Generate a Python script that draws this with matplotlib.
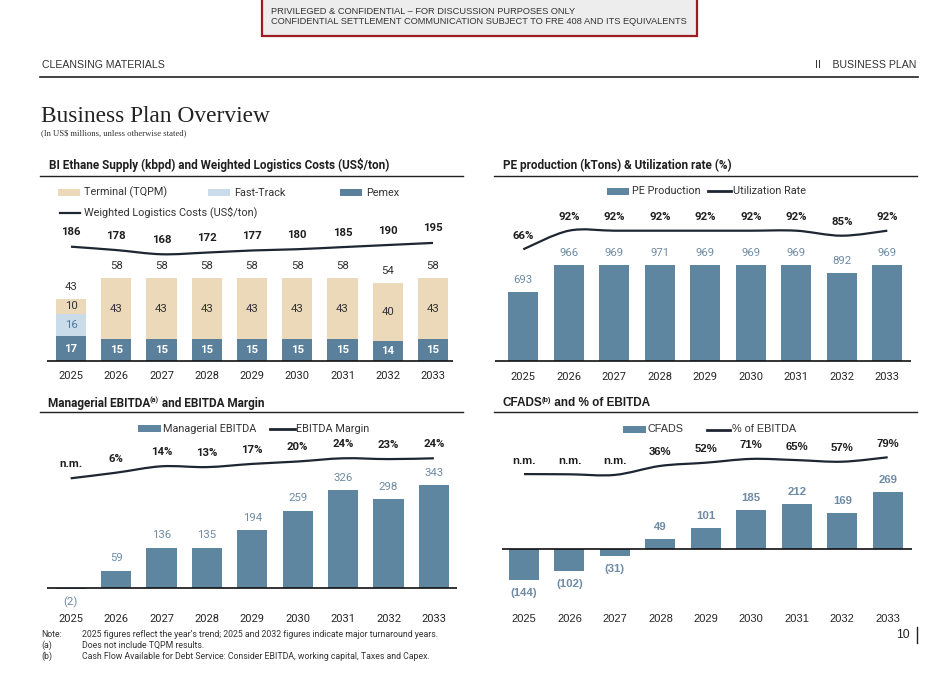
import matplotlib
matplotlib.use("Agg")
import matplotlib.pyplot as plt
from matplotlib.patches import Rectangle, PathPatch
from matplotlib.path import Path
from matplotlib.lines import Line2D

# ---------------- data ----------------
years = ["2025", "2026", "2027", "2028", "2029", "2030", "2031", "2032", "2033"]

pemex = [17, 15, 15, 15, 15, 15, 15, 14, 15]
fast_track = [16, 0, 0, 0, 0, 0, 0, 0, 0]
terminal = [10, 43, 43, 43, 43, 43, 43, 40, 43]
logistics = [186, 178, 168, 172, 177, 180, 185, 190, 195]

pe_production = [693, 966, 969, 971, 969, 969, 969, 892, 969]
utilization = [66, 92, 92, 92, 92, 92, 92, 85, 92]

ebitda = [-2, 59, 136, 135, 194, 259, 326, 298, 343]
ebitda_margin = [-1, 6, 14, 13, 17, 20, 24, 23, 24]
ebitda_margin_labels = ["n.m.", "6%", "14%", "13%", "17%", "20%", "24%", "23%", "24%"]

cfads = [-144, -102, -31, 49, 101, 185, 212, 169, 269]
cfads_pct = [-5, -6, -9, 36, 52, 71, 65, 57, 79]
cfads_pct_labels = ["n.m.", "n.m.", "n.m.", "36%", "52%", "71%", "65%", "57%", "79%"]

# ---------------- style ----------------
W, H = 953, 673
BAR = "#5E86A1"
PEMEX = "#5A809C"
TERM = "#EBD9B9"
FAST = "#CADCE9"
LINE = "#1E2633"
VAL = "#6E8BA4"
DARK = "#1F1F1F"
FONT = "Roboto"
FONT4 = "Liberation Sans"
TITLE_FS = 8.5
LEG_FS = 7.8
VAL_FS = 8.2
YEAR_FS = 8.0

fig = plt.figure(figsize=(W / 100, H / 100), dpi=100)
fig.patch.set_facecolor("white")
renderer = fig.canvas.get_renderer()


def ftext(x, y, s, **kw):
    kw.setdefault("va", "center")
    kw.setdefault("ha", "left")
    return fig.text(x / W, 1 - y / H, s, **kw)


def fline(x0, x1, y, lw=1.0, color=DARK):
    fig.add_artist(Line2D([x0 / W, x1 / W], [1 - y / H, 1 - y / H],
                          transform=fig.transFigure, color=color, lw=lw))


def frect(x0, y0, x1, y1, **kw):
    fig.add_artist(Rectangle((x0 / W, 1 - y1 / H), (x1 - x0) / W, (y1 - y0) / H,
                             transform=fig.transFigure, **kw))


def make_axes(x_left, x_right, x_first, step, base, top, bottom, s):
    ax = fig.add_axes([x_left / W, 1 - bottom / H, (x_right - x_left) / W, (bottom - top) / H])
    ax.set_xlim(-(x_first - x_left) / step, (x_right - x_first) / step)
    ax.set_ylim(-(bottom - base) / s, (base - top) / s)
    ax.axis("off")
    return ax


def make_twin(ax, v0, px0, s2, top, bottom):
    ax2 = fig.add_axes(ax.get_position().bounds)
    ax2.set_xlim(ax.get_xlim())
    ax2.set_ylim(v0 - (bottom - px0) / s2, v0 + (px0 - top) / s2)
    ax2.axis("off")
    return ax2


def smooth_line(ax, xs, ys, color=LINE, lw=1.6):
    n = len(xs)
    pts = list(zip(xs, ys))
    verts = [pts[0]]
    codes = [Path.MOVETO]
    for i in range(n - 1):
        p0 = pts[max(i - 1, 0)]
        p1 = pts[i]
        p2 = pts[i + 1]
        p3 = pts[min(i + 2, n - 1)]
        c1 = (p1[0] + (p2[0] - p0[0]) / 6, p1[1] + (p2[1] - p0[1]) / 6)
        c2 = (p2[0] - (p3[0] - p1[0]) / 6, p2[1] - (p3[1] - p1[1]) / 6)
        verts += [c1, c2, p2]
        codes += [Path.CURVE4] * 3
    ax.add_patch(PathPatch(Path(verts, codes), fill=False, edgecolor=color, lw=lw,
                           capstyle="butt", clip_on=False))


def year_labels(ax, base, s, ypx, family=FONT):
    yv = (base - ypx) / s
    for i, yr in enumerate(years):
        ax.text(i, yv, yr, ha="center", va="center", fontsize=YEAR_FS, color="#262626",
                family=family, clip_on=False)


def title_with_sup(x, y, pre, sup, post, family):
    t = ftext(x, y, pre, family=family, fontsize=TITLE_FS, fontweight="bold", color=DARK)
    bb = t.get_window_extent(renderer)
    t2 = ftext(bb.x1 - 0.8, y - 2.8, sup, family=family, fontsize=5.2, fontweight="bold", color=DARK)
    bb2 = t2.get_window_extent(renderer)
    ftext(bb2.x1 - 0.3, y, post, family=family, fontsize=TITLE_FS, fontweight="bold", color=DARK)


# ---------------- header ----------------
frect(262, -2, 697, 36, facecolor="#EDEDED", edgecolor="#9B1C22", lw=1.6)
ftext(271, 11, "PRIVILEGED & CONFIDENTIAL – FOR DISCUSSION PURPOSES ONLY",
      family=FONT4, fontsize=6.65, color="#333333")
ftext(271, 22, "CONFIDENTIAL SETTLEMENT COMMUNICATION SUBJECT TO FRE 408 AND ITS EQUIVALENTS",
      family=FONT4, fontsize=6.65, color="#333333")

ftext(42, 65, "CLEANSING MATERIALS", family=FONT4, fontsize=7.6, color="#333333")
ftext(916, 65, "II    BUSINESS PLAN", ha="right", family=FONT4, fontsize=7.6, color="#333333")
fline(40, 918, 77, lw=1.2, color="#222222")

ftext(41, 117, "Business Plan Overview", family="Liberation Serif", fontsize=16.8, color="#222222")
ftext(41, 133, "(In US$ millions, unless otherwise stated)", family="Liberation Serif",
      fontsize=6.2, color="#333333")

# panel titles and rules
ftext(49, 165, "BI Ethane Supply (kbpd) and Weighted Logistics Costs (US$/ton)",
      family=FONT, fontsize=TITLE_FS, fontweight="bold", color=DARK)
fline(40, 463, 176, lw=1.0)
ftext(503, 165, "PE production (kTons) & Utilization rate (%)",
      family=FONT, fontsize=TITLE_FS, fontweight="bold", color=DARK)
fline(494, 917, 176, lw=1.0)

title_with_sup(48.5, 403, "Managerial EBITDA", "(a)", " and EBITDA Margin", FONT)
fline(40, 463, 412, lw=1.0)
title_with_sup(503, 403, "CFADS", "(b)", " and % of EBITDA", FONT4)
fline(494, 917, 412, lw=1.0)

# ---------------- panel 1 ----------------
b1, s1 = 360.7, 1.43
ax1 = make_axes(46.7, 453, 71, 45.25, b1, 180, 390, s1)
x = list(range(len(years)))
bw = 0.663
ax1.bar(x, pemex, width=bw, color=PEMEX)
ax1.bar(x, fast_track, width=bw, bottom=pemex, color=FAST)
bottom_t = [p + f for p, f in zip(pemex, fast_track)]
ax1.bar(x, terminal, width=bw, bottom=bottom_t, color=TERM)
ax1.axhline(0, color="#111111", lw=1.2)
for i in x:
    ax1.text(i, pemex[i] / 2, str(pemex[i]), ha="center", va="center", color="white",
             fontsize=VAL_FS, fontweight="bold", family=FONT)
    if fast_track[i]:
        ax1.text(i, pemex[i] + fast_track[i] / 2, str(fast_track[i]), ha="center", va="center",
                 color="#4F7A9A", fontsize=VAL_FS, family=FONT)
    ax1.text(i, bottom_t[i] + terminal[i] / 2, str(terminal[i]), ha="center", va="center",
             color="#333333", fontsize=VAL_FS, family=FONT)
    tot = bottom_t[i] + terminal[i]
    ax1.annotate(str(tot), (i, tot), xytext=(0, 8.8), textcoords="offset points",
                 ha="center", va="center", color="#333333", fontsize=VAL_FS, family=FONT)
ax1t = make_twin(ax1, 186, 246.7, 0.42, 180, 390)
smooth_line(ax1t, x, logistics)
for i in x:
    ax1t.annotate(str(logistics[i]), (i, logistics[i]), xytext=(0, 10.4), textcoords="offset points",
                  ha="center", va="center", color=DARK, fontsize=VAL_FS, fontweight="bold", family=FONT)
year_labels(ax1, b1, s1, 376)

# legend 1
frect(58, 189.3, 80, 195.7, facecolor=TERM, edgecolor="none")
ftext(84, 192.5, "Terminal (TQPM)", family=FONT, fontsize=LEG_FS, color="#333333")
frect(208, 189.3, 230, 195.7, facecolor=FAST, edgecolor="none")
ftext(234, 192.5, "Fast-Track", family=FONT, fontsize=LEG_FS, color="#333333")
frect(340, 189.3, 362, 195.7, facecolor=PEMEX, edgecolor="none")
ftext(366, 192.5, "Pemex", family=FONT, fontsize=LEG_FS, color="#333333")
fline(60, 80, 212.5, lw=1.6, color=LINE)
ftext(84, 212.5, "Weighted Logistics Costs (US$/ton)", family=FONT, fontsize=LEG_FS, color="#333333")

# ---------------- panel 2 ----------------
b2, s2 = 360.7, 0.0988
ax2 = make_axes(495, 910.7, 523.3, 45.5, b2, 180, 390, s2)
ax2.bar(x, pe_production, width=0.66, color=BAR)
ax2.axhline(0, color="#111111", lw=1.2)
for i in x:
    ax2.annotate(str(pe_production[i]), (i, pe_production[i]), xytext=(0, 8.6),
                 textcoords="offset points", ha="center", va="center", color=VAL,
                 fontsize=VAL_FS, family=FONT)
ax2t = make_twin(ax2, 92, 230.7, 0.715, 180, 390)
smooth_line(ax2t, x, utilization)
for i in x:
    ax2t.annotate(f"{utilization[i]}%", (i, utilization[i]), xytext=(0, 9.7), textcoords="offset points",
                  ha="center", va="center", color=DARK, fontsize=VAL_FS, fontweight="bold", family=FONT)
year_labels(ax2, b2, s2, 377)

frect(607, 187.5, 629, 194.5, facecolor=BAR, edgecolor="none")
ftext(632, 191, "PE Production", family=FONT, fontsize=LEG_FS, color="#333333")
fline(708, 731, 191, lw=2.0, color=LINE)
ftext(733, 191, "Utilization Rate", family=FONT, fontsize=LEG_FS, color="#333333")

# ---------------- panel 3 ----------------
b3, s3 = 588.3, 0.30
ax3 = make_axes(47.3, 456.7, 70.7, 45.4, b3, 420, 625, s3)
ax3.bar(x, ebitda, width=0.667, color=BAR)
ax3.axhline(0, color="#111111", lw=1.2)
for i in x:
    v = ebitda[i]
    lab = f"({abs(v)})" if v < 0 else str(v)
    off = -9.6 if v < 0 else 8.9
    ax3.annotate(lab, (i, v), xytext=(0, off), textcoords="offset points", ha="center",
                 va="center", color=VAL, fontsize=VAL_FS, family=FONT)
ax3t = make_twin(ax3, 24, 458.3, 0.8, 420, 625)
smooth_line(ax3t, x, ebitda_margin)
for i in x:
    ax3t.annotate(ebitda_margin_labels[i], (i, ebitda_margin[i]), xytext=(0, 10.2),
                  textcoords="offset points", ha="center", va="center", color=DARK,
                  fontsize=VAL_FS, fontweight="bold", family=FONT)
year_labels(ax3, b3, s3, 618.7)

frect(138, 425, 160.7, 431.7, facecolor=BAR, edgecolor="none")
ftext(163, 428.5, "Managerial EBITDA", family=FONT, fontsize=LEG_FS, color="#333333")
fline(270, 295, 428.7, lw=2.0, color=LINE)
ftext(296, 428.5, "EBITDA Margin", family=FONT, fontsize=LEG_FS, color="#333333")

# ---------------- panel 4 ----------------
b4, s4 = 549.3, 0.213
ax4 = make_axes(501.7, 911.7, 524, 45.46, b4, 420, 625, s4)
ax4.bar(x, cfads, width=0.66, color=BAR)
ax4.axhline(0, color="#111111", lw=1.2)
for i in x:
    v = cfads[i]
    lab = f"({abs(v)})" if v < 0 else str(v)
    off = -9.6 if v < 0 else 8.5
    ax4.annotate(lab, (i, v), xytext=(0, off), textcoords="offset points", ha="center",
                 va="center", color=VAL, fontsize=VAL_FS, fontweight="bold", family=FONT4)
ax4t = make_twin(ax4, 79, 457.3, 0.2, 420, 625)
smooth_line(ax4t, x, cfads_pct)
for i in x:
    ax4t.annotate(cfads_pct_labels[i], (i, cfads_pct[i]), xytext=(0, 9.7),
                  textcoords="offset points", ha="center", va="center", color=DARK,
                  fontsize=VAL_FS, fontweight="bold", family=FONT4)
year_labels(ax4, b4, s4, 618.7, family=FONT4)

frect(623.3, 426, 645.7, 433.3, facecolor=BAR, edgecolor="none")
ftext(648, 429.5, "CFADS", family=FONT4, fontsize=LEG_FS, color="#333333")
fline(707, 730, 430, lw=2.0, color=LINE)
ftext(732, 429.5, "% of EBITDA", family=FONT4, fontsize=LEG_FS, color="#333333")

# ---------------- notes & page number ----------------
notes = [("Note:", "2025 figures reflect the year’s trend; 2025 and 2032 figures indicate major turnaround years."),
         ("(a)", "Does not include TQPM results."),
         ("(b)", "Cash Flow Available for Debt Service: Consider EBITDA, working capital, Taxes and Capex.")]
for (k, txt), yy in zip(notes, [634.3, 645.7, 656.7]):
    ftext(41, yy, k, family=FONT, fontsize=6.3, color="#333333")
    ftext(82, yy, txt, family=FONT, fontsize=6.3, color="#333333")

ftext(909.5, 635, "10", ha="right", family=FONT4, fontsize=8.7, color="#222222")
fig.add_artist(Line2D([917.3 / W, 917.3 / W], [1 - 627.3 / H, 1 - 643.3 / H],
                      transform=fig.transFigure, color="#222222", lw=1.0))

fig.savefig("out.png", dpi=100)
